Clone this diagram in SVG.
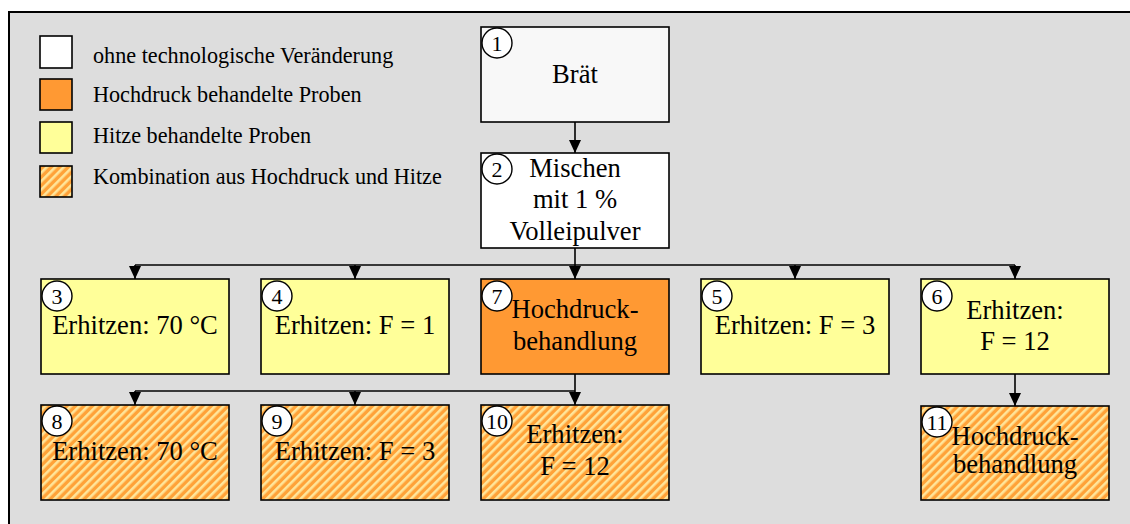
<svg xmlns="http://www.w3.org/2000/svg" width="1130" height="524" viewBox="0 0 1130 524">
<style>
.box{stroke:#000;stroke-width:1.6}
.white{fill:#FFFFFF}
.start{fill:#F8F8F8}
.orange{fill:#FF9933}
.yellow{fill:#FFFF99}
.hatch{fill:url(#hatch)}
.num{fill:#FFFFFF;stroke:#000;stroke-width:1.4}
.t{font-family:"Liberation Serif","Times New Roman",serif;font-size:26.6px;fill:#000;text-anchor:middle}
.n{font-family:"Liberation Serif","Times New Roman",serif;font-size:22px;fill:#000;text-anchor:middle}
.lg{font-family:"Liberation Serif","Times New Roman",serif;font-size:22.2px;fill:#000}
.conn{fill:none;stroke:#000;stroke-width:1.6}
</style>
<defs>
<pattern id="hatch" patternUnits="userSpaceOnUse" width="6" height="6" patternTransform="rotate(45)">
<rect x="0" y="0" width="6" height="6" fill="#FFA238"/>
<rect x="0" y="0" width="2.6" height="6" fill="#FFE59A"/>
</pattern>
<marker id="arr" markerUnits="userSpaceOnUse" viewBox="0 -6 13 12" markerWidth="13" markerHeight="12" refX="13" refY="0" orient="auto">
<path d="M0,-6 L13,0 L0,6 z" fill="#000"/>
</marker>
</defs>
<rect x="0" y="0" width="1130" height="524" fill="#FFFFFF"/>
<rect x="9" y="12" width="1130" height="520" fill="#DDDDDD" stroke="#000" stroke-width="2"/>
<g id="legend">
<rect class="box white" x="40" y="36" width="32" height="32"/>
<text class="lg" x="93" y="63">ohne technologische Veränderung</text>
<rect class="box orange" x="40" y="79" width="32" height="31"/>
<text class="lg" x="93" y="102">Hochdruck behandelte Proben</text>
<rect class="box yellow" x="40" y="122" width="32" height="31"/>
<text class="lg" x="93" y="143">Hitze behandelte Proben</text>
<rect class="box hatch" x="40" y="166" width="32" height="31"/>
<text class="lg" x="93" y="184">Kombination aus Hochdruck und Hitze</text>
</g>
<g id="connectors">
<line class="conn" x1="575" y1="122" x2="575" y2="153" marker-end="url(#arr)"/>
<polyline class="conn" points="575,248 575,265"/>
<polyline class="conn" points="135,265 1015,265"/>
<line class="conn" x1="135" y1="265" x2="135" y2="279" marker-end="url(#arr)"/>
<line class="conn" x1="355" y1="265" x2="355" y2="279" marker-end="url(#arr)"/>
<line class="conn" x1="575" y1="265" x2="575" y2="279" marker-end="url(#arr)"/>
<line class="conn" x1="795" y1="265" x2="795" y2="279" marker-end="url(#arr)"/>
<line class="conn" x1="1015" y1="265" x2="1015" y2="279" marker-end="url(#arr)"/>
<polyline class="conn" points="575,374 575,391"/>
<polyline class="conn" points="135,391 575,391"/>
<line class="conn" x1="135" y1="391" x2="135" y2="405" marker-end="url(#arr)"/>
<line class="conn" x1="355" y1="391" x2="355" y2="405" marker-end="url(#arr)"/>
<line class="conn" x1="575" y1="391" x2="575" y2="405" marker-end="url(#arr)"/>
<line class="conn" x1="1015" y1="374" x2="1015" y2="406" marker-end="url(#arr)"/>
</g>
<g id="node1">
<rect class="box start" x="481" y="27" width="188" height="95"/>
<circle class="num" cx="497" cy="43" r="15"/>
<text class="n" x="497" y="50.5">1</text>
<text class="t" x="575" y="83">Brät</text>
</g>
<g id="node2">
<rect class="box white" x="481" y="153" width="188" height="95"/>
<circle class="num" cx="497" cy="169" r="15"/>
<text class="n" x="497" y="176.5">2</text>
<text class="t" x="575" y="177">Mischen</text>
<text class="t" x="575" y="208">mit 1 %</text>
<text class="t" x="575" y="240">Volleipulver</text>
</g>
<g id="node3">
<rect class="box yellow" x="41" y="279" width="188" height="95"/>
<circle class="num" cx="57" cy="296" r="15"/>
<text class="n" x="57" y="303.5">3</text>
<text class="t" x="135" y="334">Erhitzen: 70 °C</text>
</g>
<g id="node4">
<rect class="box yellow" x="261" y="279" width="188" height="95"/>
<circle class="num" cx="277" cy="296" r="15"/>
<text class="n" x="277" y="303.5">4</text>
<text class="t" x="355" y="334">Erhitzen: F = 1</text>
</g>
<g id="node7">
<rect class="box orange" x="481" y="279" width="188" height="95"/>
<circle class="num" cx="497" cy="296" r="15"/>
<text class="n" x="497" y="303.5">7</text>
<text class="t" x="575" y="318">Hochdruck-</text>
<text class="t" x="575" y="350">behandlung</text>
</g>
<g id="node5">
<rect class="box yellow" x="701" y="279" width="188" height="95"/>
<circle class="num" cx="717" cy="296" r="15"/>
<text class="n" x="717" y="303.5">5</text>
<text class="t" x="795" y="334">Erhitzen: F = 3</text>
</g>
<g id="node6">
<rect class="box yellow" x="921" y="279" width="188" height="95"/>
<circle class="num" cx="937" cy="296" r="15"/>
<text class="n" x="937" y="303.5">6</text>
<text class="t" x="1015" y="319">Erhitzen:</text>
<text class="t" x="1015" y="350">F = 12</text>
</g>
<g id="node8">
<rect class="box hatch" x="41" y="405" width="188" height="95"/>
<circle class="num" cx="57" cy="421" r="15"/>
<text class="n" x="57" y="428.5">8</text>
<text class="t" x="135" y="460">Erhitzen: 70 °C</text>
</g>
<g id="node9">
<rect class="box hatch" x="261" y="405" width="188" height="95"/>
<circle class="num" cx="277" cy="421" r="15"/>
<text class="n" x="277" y="428.5">9</text>
<text class="t" x="355" y="460">Erhitzen: F = 3</text>
</g>
<g id="node10">
<rect class="box hatch" x="481" y="405" width="188" height="95"/>
<circle class="num" cx="497" cy="421" r="15"/>
<text class="n" x="497" y="428.5">10</text>
<text class="t" x="575" y="443">Erhitzen:</text>
<text class="t" x="575" y="475">F = 12</text>
</g>
<g id="node11">
<rect class="box hatch" x="921" y="406" width="188" height="94"/>
<circle class="num" cx="937" cy="422" r="15"/>
<text class="n" x="937" y="429.5">11</text>
<text class="t" x="1015" y="445">Hochdruck-</text>
<text class="t" x="1015" y="473">behandlung</text>
</g>
</svg>
